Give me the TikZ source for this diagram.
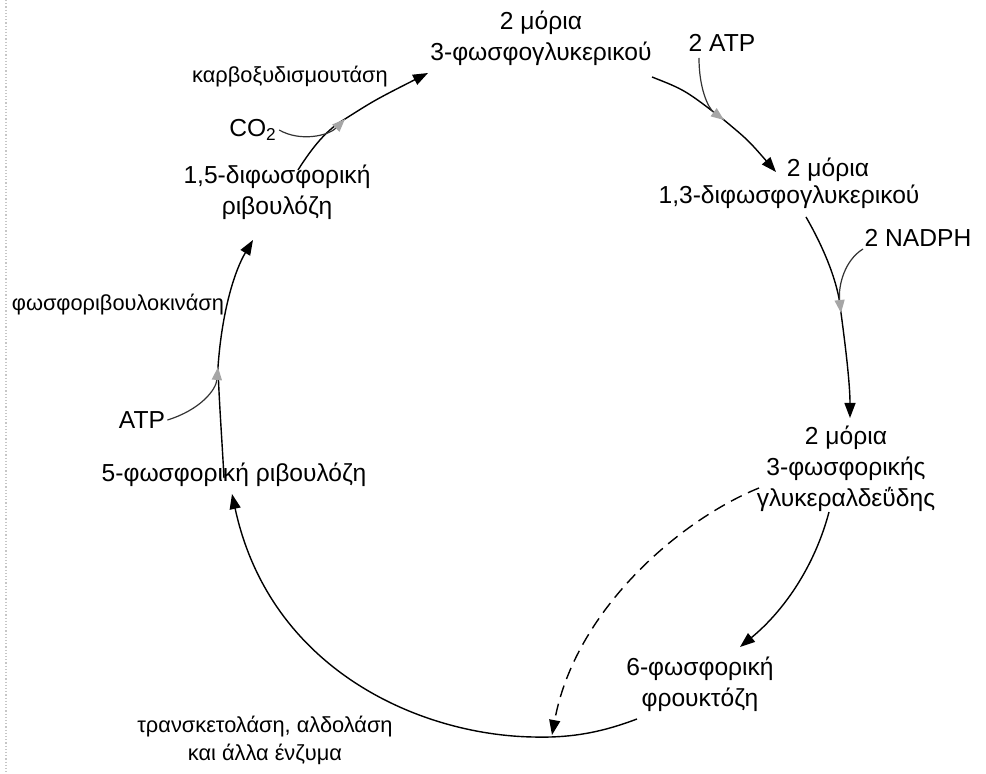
\documentclass[tikz,border=0pt]{standalone}
\usepackage{fontspec}
\setmainfont{Liberation Sans}
\usetikzlibrary{arrows.meta}
\tikzset{
  compound/.style={align=center, inner sep=1pt, font=\fontsize{12.3}{15.5}\selectfont},
  enzyme/.style={align=center, inner sep=1pt, font=\fontsize{10.9}{14}\selectfont},
  cofactor/.style={inner sep=1pt, font=\fontsize{12.3}{15}\selectfont},
  cycline/.style={line width=0.7pt},
  cycarrow/.style={cycline, -{Triangle[length=7.5pt,width=5.5pt]}},
  feedarrow/.style={-{Triangle[length=6.5pt,width=5pt,color=gray!70]}, line width=0.6pt, draw=black!80},
  dasharrow/.style={cycarrow, dashed, dash pattern=on 6pt off 3.5pt}
}
\begin{document}
\begin{tikzpicture}[x=0.5pt,y=-0.5pt]
  \useasboundingbox (0,0) rectangle (986,774);
  % page edge of the scan
  \draw[gray!45, densely dotted, line width=0.6pt] (6,0) -- (6,774);

  % === compounds of the cycle ===
  \node[compound] (pga)    at (541,38)  {2 μόρια\\3-φωσφογλυκερικού};
  \node[compound] (bpgtop) at (828,170) {2 μόρια};
  \node[compound] (bpg)    at (789,197) {1,3-διφωσφογλυκερικού};
  \node[compound] (gap)    at (846,469) {2 μόρια\\3-φωσφορικής\\γλυκεραλδεΰδης};
  \node[compound] (f6p)    at (700,684) {6-φωσφορική\\φρουκτόζη};
  \node[compound] (ru5p)   at (234,475) {5-φωσφορική ριβουλόζη};
  \node[compound] (rubp)   at (277,192) {1,5-διφωσφορική\\ριβουλόζη};

  % === cofactors and enzymes ===
  \node[cofactor] (co2)   at (253,130) {CO\textsubscript{2}};
  \node[cofactor] (atpb)  at (722,43)  {2 ATP};
  \node[cofactor] (nadph) at (918,238) {2 NADPH};
  \node[cofactor] (atpa)  at (142,420) {ATP};
  \node[enzyme] (rubisco) at (290,77)  {καρβοξυδισμουτάση};
  \node[enzyme] (prk)     at (118,305) {φωσφοριβουλοκινάση};
  \node[enzyme] (enz)     at (265,740) {τρανσκετολάση, αλδολάση\\και άλλα ένζυμα};

  % merge points of the side inputs
  \coordinate (mco2)   at (345,119);
  \coordinate (matpb)  at (724,120);
  \coordinate (mnad)   at (841,313);
  \coordinate (matpa)  at (218,367);
  \coordinate (bottom) at (533,737);

  % === carbon fixation ===
  \draw[cycline] (298,170) .. controls (312,148) and (326,130) .. (mco2);
  \draw[cycarrow] (mco2) .. controls (375,100) .. (428,73);
  \draw[feedarrow] (co2.east) .. controls (300,142) and (328,136) .. (mco2);

  % === reduction ===
  \draw[cycline] (652,77) .. controls (685,90) .. (matpb);
  \draw[cycarrow] (matpb) .. controls (748,140) .. (776,172);
  \draw[feedarrow] (699,58) .. controls (699,88) and (708,108) .. (matpb);

  \draw[cycline] (806,217) .. controls (825,250) and (839,285) .. (mnad);
  \draw[cycarrow] (mnad) .. controls (846,350) and (850,385) .. (850,418);
  \draw[feedarrow] (863,249) .. controls (845,260) and (838,285) .. (mnad);

  \draw[cycarrow] (829,512) .. controls (815,565) and (785,610) .. (740,647);
  \draw[dasharrow] (759,488) .. controls (680,520) and (575,610) .. (552,735);

  % === regeneration ===
  \draw[cycarrow] (637,719) .. controls (600,733) and (570,738) .. (bottom)
     .. controls (420,735) and (270,670) .. (232,494);

  \draw[cycline] (224,478) .. controls (222,440) and (219,400) .. (matpa);
  \draw[cycarrow] (matpa) .. controls (222,310) and (235,270) .. (253,240);
  \draw[feedarrow] (atpa.east) .. controls (200,410) and (216,390) .. (matpa);
\end{tikzpicture}
\end{document}
